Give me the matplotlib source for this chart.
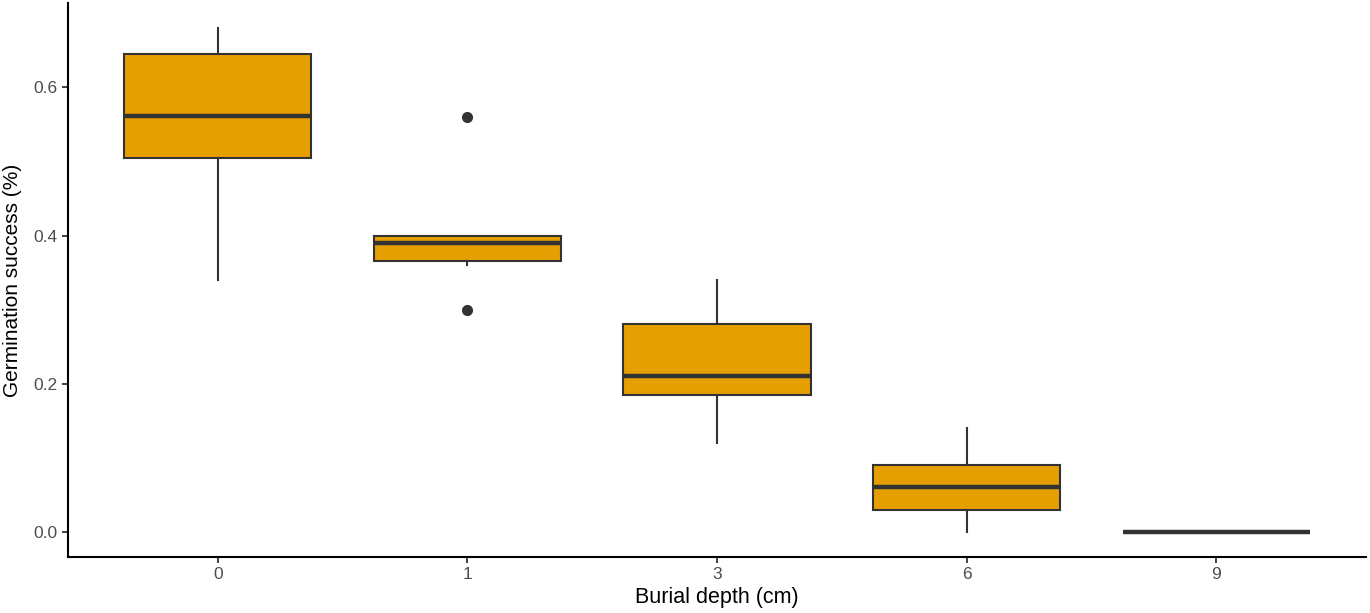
import matplotlib
matplotlib.use("Agg")
import matplotlib.pyplot as plt

plt.rcParams['font.family'] = ['Liberation Sans', 'DejaVu Sans']

categories = ["0", "1", "3", "6", "9"]
whisker_low = [0.34, 0.36, 0.12, 0.0, 0.0]
q1 = [0.505, 0.366, 0.185, 0.03, 0.0]
median = [0.561, 0.39, 0.21, 0.06, 0.0]
q3 = [0.645, 0.40, 0.28, 0.09, 0.0]
whisker_high = [0.68, 0.40, 0.34, 0.14, 0.0]
outliers = [[], [0.56, 0.30], [], [], []]

stats = []
for i, c in enumerate(categories):
    stats.append(dict(label=c, whislo=whisker_low[i], q1=q1[i], med=median[i],
                      q3=q3[i], whishi=whisker_high[i], fliers=outliers[i]))

fig = plt.figure(figsize=(13.7, 6.13), dpi=100)
ax = fig.add_axes([68/1370, 56/613, (1366-68)/1370, (610-56)/613])

edge = "#333333"
ax.bxp(stats, positions=range(len(categories)), widths=0.75, patch_artist=True,
       showcaps=False,
       boxprops=dict(facecolor="#E69F00", edgecolor=edge, linewidth=1.5),
       whiskerprops=dict(color=edge, linewidth=1.5),
       medianprops=dict(color=edge, linewidth=3.2, solid_capstyle='butt'),
       flierprops=dict(marker='o', markerfacecolor=edge, markeredgecolor=edge, markersize=7))

ax.set_xlim(-0.6, 4.6)
ax.set_ylim(-0.034, 0.714)
ax.set_yticks([0.0, 0.2, 0.4, 0.6])
ax.set_yticklabels(["0.0", "0.2", "0.4", "0.6"])
ax.set_xticks(range(len(categories)))
ax.set_xticklabels(categories)

for s in ["top", "right"]:
    ax.spines[s].set_visible(False)
for s in ["left", "bottom"]:
    ax.spines[s].set_linewidth(1.5)
    ax.spines[s].set_color("black")
ax.tick_params(axis='both', colors="#4D4D4D", labelsize=12.5, width=1.3, length=4)
ax.tick_params(axis='both', which='both', color="#333333")

ax.set_xlabel("Burial depth (cm)", fontsize=15.5, labelpad=3)
ax.set_ylabel("Germination success (%)", fontsize=15, labelpad=8)

fig.savefig("out.png", dpi=100)
